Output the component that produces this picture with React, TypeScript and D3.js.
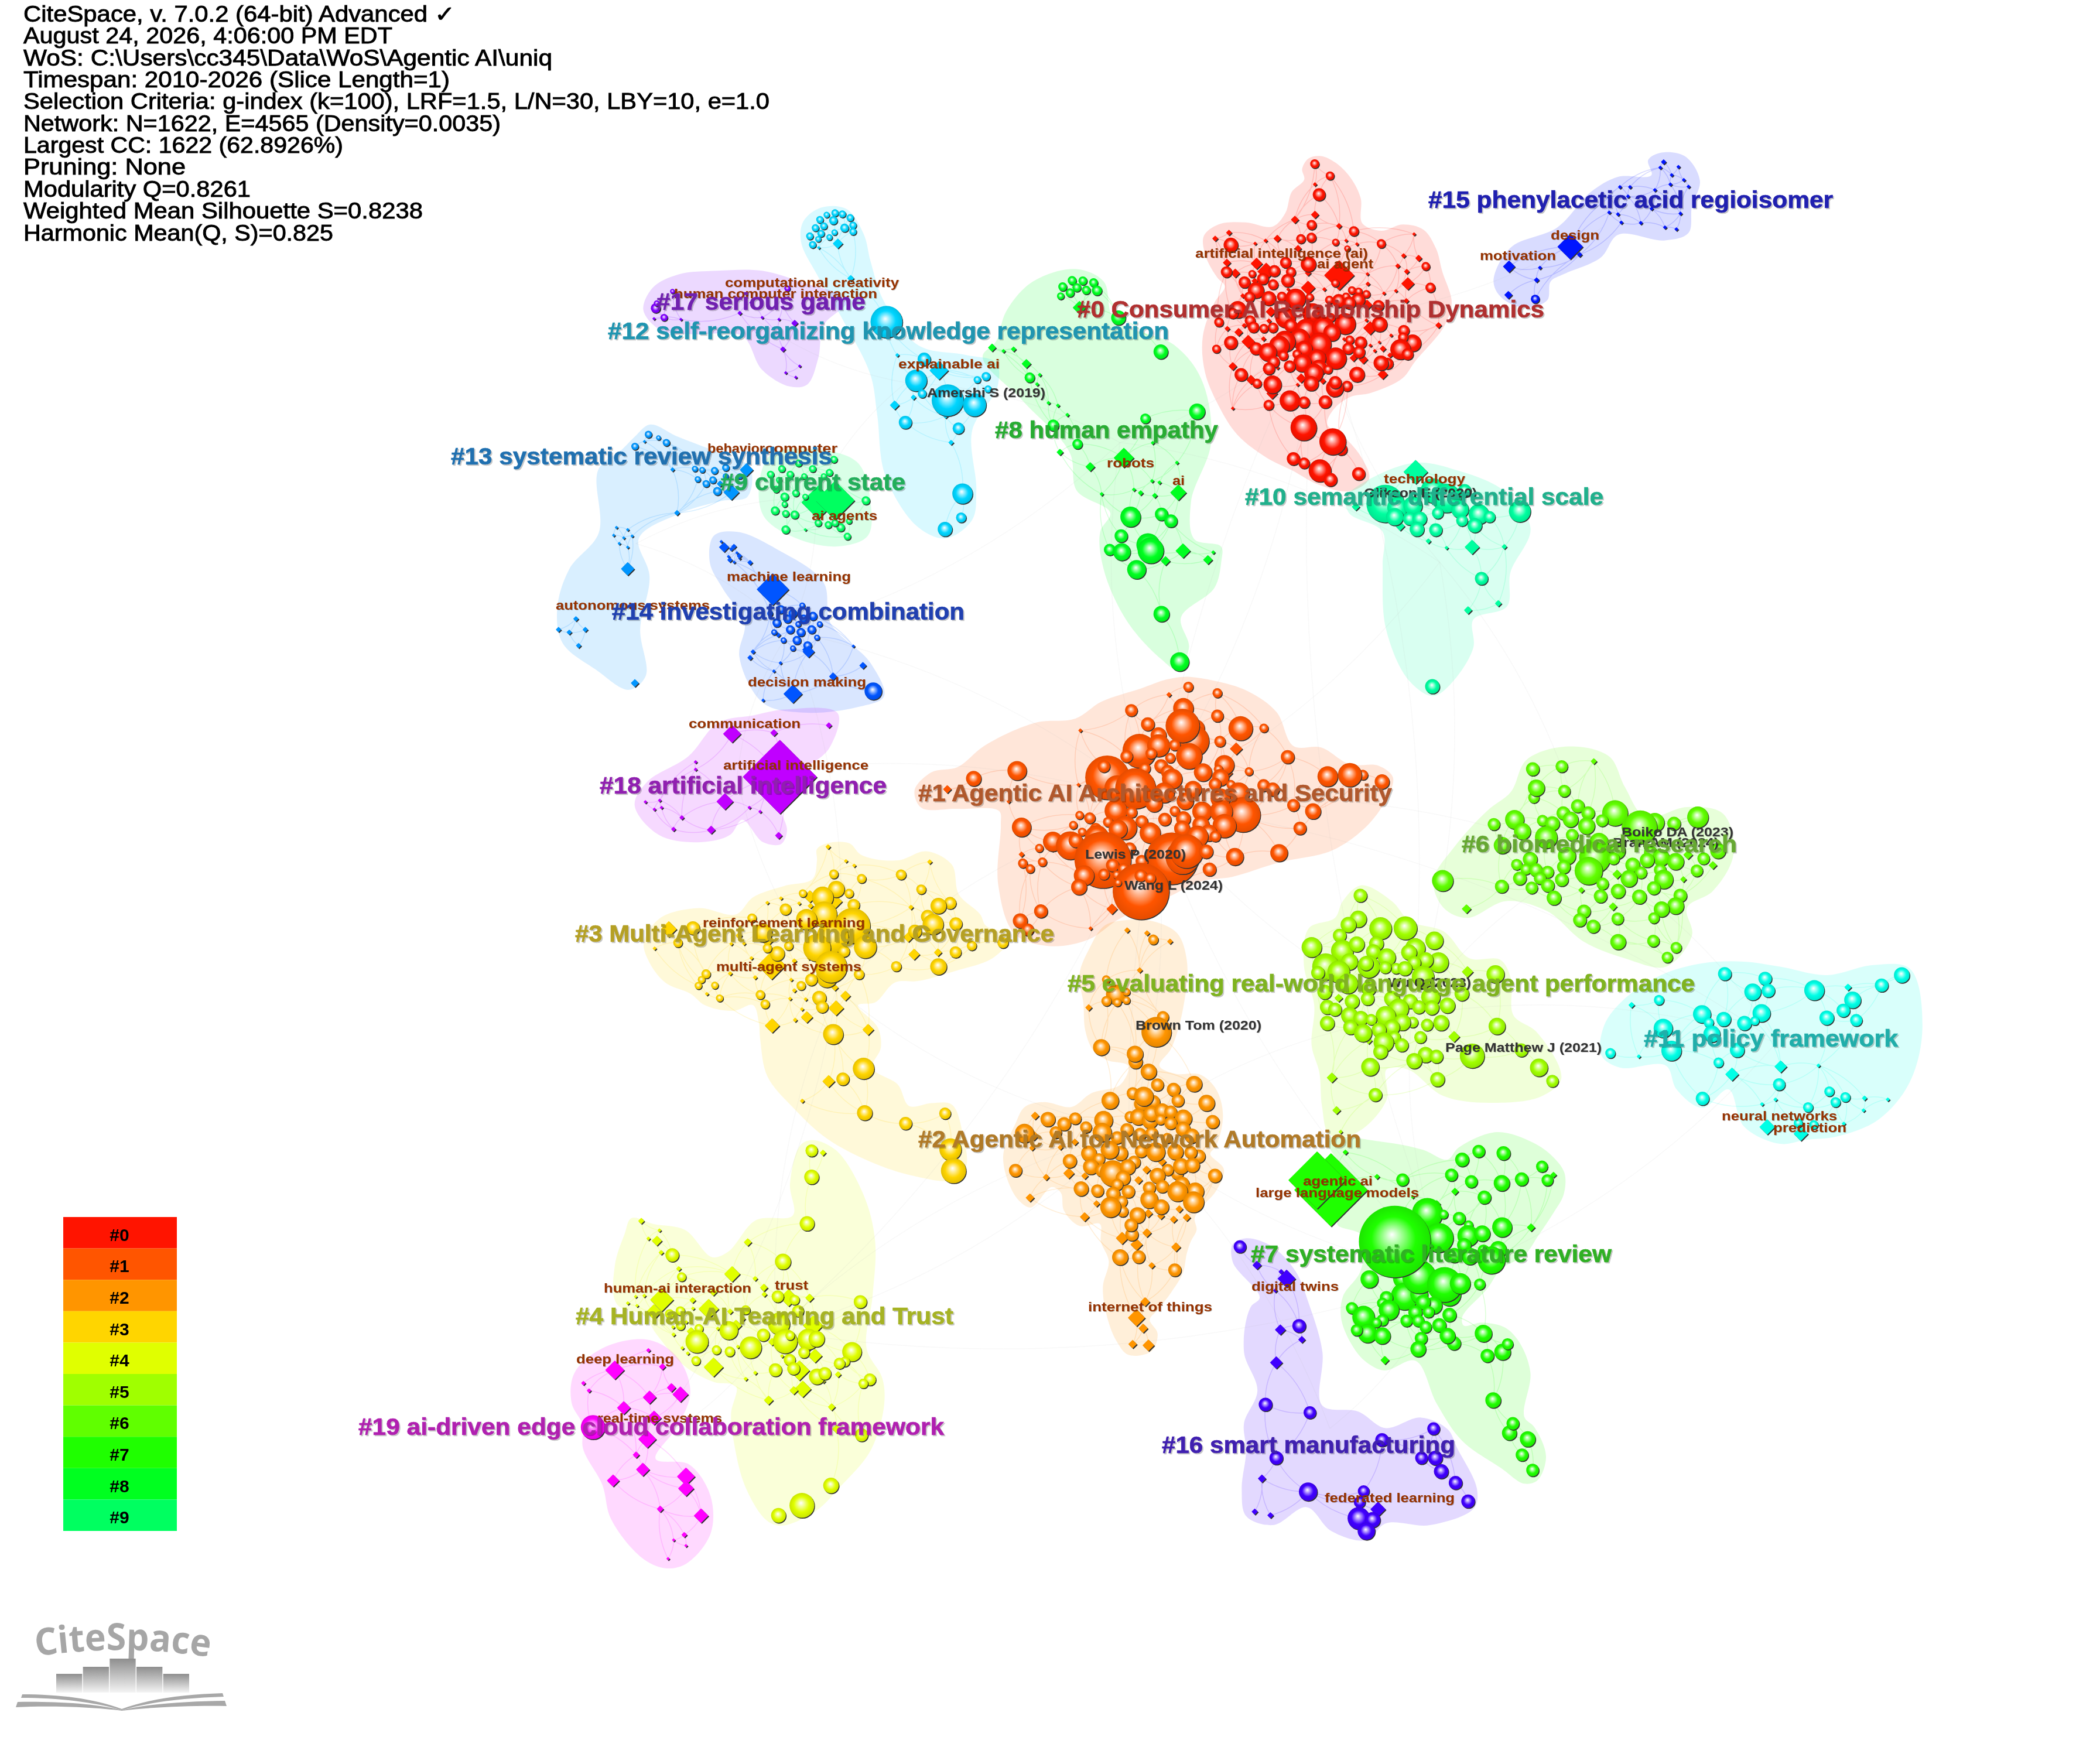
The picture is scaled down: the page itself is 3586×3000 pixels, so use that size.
import * as d3 from 'd3'

// CiteSpace cluster map. Node lists are [x, y, size],
// each list in the pixel grid of the view it was read from (see views below).

const headerLines = [
  'CiteSpace, v. 7.0.2 (64-bit) Advanced ✓',
  'August 24, 2026, 4:06:00 PM EDT',
  'WoS: C:\\Users\\cc345\\Data\\WoS\\Agentic AI\\uniq',
  'Timespan: 2010-2026 (Slice Length=1)',
  'Selection Criteria: g-index (k=100), LRF=1.5, L/N=30, LBY=10, e=1.0',
  'Network: N=1622, E=4565 (Density=0.0035)',
  'Largest CC: 1622 (62.8926%)',
  'Pruning: None',
  'Modularity Q=0.8261',
  'Weighted Mean Silhouette S=0.8238',
  'Harmonic Mean(Q, S)=0.825',
]
const headerWidths = [737, 630, 903, 728, 1274, 815, 546, 277, 388, 682, 529]

const clusterColors = ['#ff1400', '#ff5500', '#ff9500', '#ffd500', '#e0ff00', '#a0ff00', '#60ff00', '#1fff00', '#00ff20', '#00ff60',
  '#00ffa0', '#00ffe6', '#00d5ff', '#0095ff', '#0055ff', '#0015ff', '#4000ff', '#8000ff', '#c000ff', '#ff00ff']
const clusterInk = ['#b03030', '#b0582c', '#b07a28', '#b5a024', '#a6b324', '#7fb320', '#66a832', '#30b024', '#28ac32', '#22ae5a',
  '#20b08c', '#20aeaa', '#2095b0', '#2070b0', '#2040b0', '#2020b0', '#4020b0', '#7020b0', '#9020b0', '#b020b0']

const clusterNames = ['#0 Consumer-AI Relationship Dynamics', '#1 Agentic AI Architectures and Security', '#2 Agentic AI for Network Automation',
  '#3 Multi-Agent Learning and Governance', '#4 Human-AI Teaming and Trust', '#5 evaluating real-world language agent performance',
  '#6 biomedical research', '#7 systematic literature review', '#8 human empathy', '#9 current state', '#10 semantic differential scale',
  '#11 policy framework', '#12 self-reorganizing knowledge representation', '#13 systematic review synthesis', '#14 investigating combination',
  '#15 phenylacetic acid regioisomer', '#16 smart manufacturing', '#17 serious game', '#18 artificial intelligence', '#19 ai-driven edge cloud collaboration framework']
const clusterNameSpan = [[1839, 2637, 542], [1568, 2377, 1368], [1568, 2324, 1959], [982, 1800, 1608], [983, 1628, 2261], [1823, 2894, 1693],
  [2496, 2966, 1455], [2136, 2752, 2155], [1699, 2080, 748], [1230, 1546, 837], [2126, 2738, 862], [2807, 3241, 1787], [1038, 1996, 579],
  [770, 1421, 793], [1045, 1647, 1058], [2439, 3130, 355], [1984, 2485, 2481], [1121, 1478, 529], [1024, 1514, 1355], [612, 1612, 2450]]

const termNames = ['computational creativity', 'human computer interaction', 'behavior', 'computer', 'ai agents', 'machine learning', 'autonomous systems',
  'decision making', 'communication', 'artificial intelligence', 'reinforcement learning', 'multi-agent systems', 'artificial intelligence (ai)', 'ai agent',
  'motivation', 'design', 'explainable ai', 'robots', 'ai', 'technology', 'neural networks', 'prediction', 'agentic ai', 'large language models',
  'digital twins', 'internet of things', 'federated learning', 'human-ai interaction', 'trust', 'deep learning', 'real-time systems']
const termSpan = [[1238, 1535, 490], [1151, 1498, 509], [1208, 1306, 773], [1306, 1430, 773], [1386, 1498, 888], [1241, 1453, 992], [949, 1212, 1041],
  [1277, 1479, 1172], [1176, 1367, 1243], [1235, 1483, 1314], [1200, 1477, 1583], [1223, 1471, 1658], [2041, 2336, 440], [2249, 2345, 458],
  [2527, 2657, 444], [2648, 2731, 409], [1534, 1707, 629], [1890, 1971, 798], [2002, 2023, 828], [2363, 2502, 825], [2940, 3137, 1913], [3028, 3153, 1933],
  [2225, 2344, 2024], [2144, 2423, 2044], [2137, 2286, 2204], [1858, 2070, 2239], [2262, 2484, 2565], [1031, 1283, 2207], [1323, 1380, 2202], [984, 1151, 2328], [1020, 1233, 2429]]

const refNames = ['Amershi S (2019)', 'Glikson E (2020)', 'Lewis P (2020)', 'Wang L (2024)', 'Brown Tom (2020)', 'Wu Q (2023)', 'Page Matthew J (2021)', 'Boiko DA (2023)', 'Bran AM (2024)']
const refSpan = [[1583, 1785, 678], [2329, 2522, 849], [1853, 2025, 1466], [1920, 2088, 1519], [1939, 2154, 1758], [2370, 2512, 1685], [2468, 2735, 1796], [2769, 2960, 1428], [2754, 2935, 1446]]

const legendItems = ['#0', '#1', '#2', '#3', '#4', '#5', '#6', '#7', '#8', '#9']
const logoBars = [32, 44, 58, 44, 32]

type View = { x0: number; y0: number; sx: number; sy: number }
const view = (x0: number, y0: number, sx: number, sy: number): View => ({ x0, y0, sx, sy })
const v1 = view(0, 0, 1.045, 1.568)
const v2 = view(1500, 200, 1568 / 1800, 1.568)
const v3 = view(900, 1100, 0.98, 1.568)
const v4 = view(2200, 1200, 1568 / 1386, 1568 / 900)
const v5 = view(0, 2000, 1.045, 1.568)
const v6 = view(1600, 1900, 1568 / 1200, 1.96)
const v7 = view(2020, 260, 2.8, 2.8)
const v8 = view(1680, 1140, 2.24, 2.24)
const v9 = view(1700, 1780, 3, 3)
const v10 = view(1000, 1440, 2.063, 2.063)
const v11 = view(2230, 1960, 3, 3)
const v12 = view(1060, 2180, 3, 3)
const vp = view(0, 0, 1568 / 3586, 1568 / 3586)

type N = number[]
const c0Circles: N[] = [[630,55,20],[703,112,19],[651,202,28],[615,347,22],[817,377,22],[614,408,22],[564,414,21],[229,443,32],[730,430,16],[786,460,14],[948,437,20],[491,527,25],[600,535,34],[1161,545,19],[208,572,25],[437,567,26],[516,572,22],[331,581,17],[382,605,26],[501,613,29],[294,621,26],[431,632,23],[728,625,18],[1183,647,22],[349,660,36],[808,660,18],[840,665,17],[877,678,18],[318,692,24],[410,698,32],[473,690,22],[538,700,45],[606,693,18],[700,706,19],[745,710,30],[780,690,18],[838,705,30],[795,720,28],[935,733,25],[262,752,38],[238,770,24],[620,770,45],[490,790,45],[172,812,21],[321,805,24],[337,836,25],[430,838,23],[387,842,20],[515,828,29],[775,820,47],[707,790,20],[940,822,34],[1056,852,25],[590,850,50],[670,840,50],[712,862,38],[557,890,44],[487,904,47],[797,897,20],[229,910,30],[160,940,19],[460,925,45],[653,917,52],[850,909,27],[790,938,26],[1098,912,38],[1052,885,22],[349,938,28],[580,940,36],[405,955,40],[842,955,27],[1040,942,45],[1074,965,26],[730,985,48],[640,985,40],[480,972,22],[545,965,20],[570,1007,40],[433,1002,27],[978,1010,26],[947,1007,33],[650,1030,35],[510,1023,26],[411,1034,27],[694,1038,20],[278,1063,29],[625,1055,42],[832,1062,34],[354,1105,21],[613,1105,33],[428,1110,40],[785,1118,24],[726,1127,39],[728,1100,28],[511,1187,45],[579,1195,26],[410,1208,23],[680,1193,29],[577,1316,58],[757,1420,27],[716,1383,59],[528,1465,29],[579,1486,25],[655,1522,50],[840,1537,29],[705,1565,30]]
const c0Diamonds: N[] = [[631,153,10],[535,322,19],[631,298,19],[746,352,14],[220,384,14],[154,412,14],[451,412,18],[345,436,9],[395,422,10],[780,422,9],[832,439,9],[1105,391,9],[550,460,17],[1055,494,12],[1127,506,16],[210,528,19],[352,532,28],[398,570,42],[747,588,72],[250,578,22],[598,577,15],[1027,543,12],[1070,570,13],[882,582,9],[884,629,11],[1075,628,31],[343,615,15],[598,648,34],[503,655,9],[676,655,10],[961,674,9],[1018,662,9],[286,686,12],[1068,710,13],[880,730,26],[420,762,24],[411,806,12],[293,828,12],[316,830,14],[877,803,9],[1222,827,15],[895,840,33],[212,843,13],[266,860,20],[995,875,9],[385,892,12],[312,905,32],[632,865,28],[770,893,9],[939,908,8],[896,923,9],[956,939,15],[917,949,9],[990,970,13],[815,983,18],[862,990,22],[238,1023,20],[452,1030,10],[955,1062,24],[325,1087,23],[565,1080,23],[668,1093,15],[548,1111,9],[426,1153,27],[238,1224,9]]

const c1Circles: N[] = [[782,73,18],[893,97,17],[564,163,22],[763,155,36],[893,184,22],[627,216,24],[810,232,32],[982,232,43],[1071,231,16],[800,280,57],[760,222,60],[668,258,28],[903,282,20],[595,318,60],[668,298,40],[730,296,20],[785,338,46],[713,345,18],[546,339,22],[640,328,20],[1162,341,24],[920,372,35],[678,376,24],[703,398,24],[616,385,20],[1014,397,15],[838,400,32],[897,388,16],[472,420,78],[459,377,22],[720,425,36],[905,420,30],[1315,416,36],[1450,410,18],[1400,410,42],[1523,436,26],[884,445,22],[945,447,16],[1070,450,22],[1105,465,24],[510,460,45],[580,462,72],[690,478,36],[800,465,30],[975,480,38],[905,500,35],[1184,526,22],[1259,549,28],[991,562,62],[505,547,40],[651,520,30],[770,510,30],[565,553,20],[730,548,18],[835,550,35],[366,564,15],[405,575,20],[475,590,18],[604,588,22],[692,580,23],[763,577,26],[908,550,40],[342,602,15],[1209,614,23],[920,605,42],[540,612,42],[428,615,20],[513,617,33],[636,632,37],[830,600,30],[376,628,15],[144,610,34],[127,394,34],[758,615,28],[860,632,30],[885,645,20],[817,645,38],[432,648,42],[264,665,35],[330,680,50],[351,661,25],[212,690,15],[503,672,20],[558,692,22],[455,735,100],[720,730,92],[760,725,60],[775,702,60],[850,703,25],[1129,708,31],[960,723,31],[149,748,17],[224,743,16],[177,769,16],[604,740,22],[492,755,23],[534,769,20],[863,771,24],[383,795,36],[459,790,20],[508,792,15],[601,855,100],[600,795,22],[636,805,20],[513,822,13],[364,839,28],[218,931,24],[139,968,26],[168,1002,22],[-39,424,27]]
const c1Diamonds: N[] = [[708,103,10],[369,240,8],[965,310,24],[935,403,17],[362,448,8],[95,512,8],[144,714,11],[262,693,12],[530,883,21],[490,923,21],[408,997,8],[-140,465,16]]

const c2UpperCircles: N[] = [[648,1040,18],[468,1193,15],[505,1250,35],[545,1240,14],[469,1275,18],[545,1272,14],[510,1280,15],[685,1336,21],[660,1393,53],[449,1452,29],[580,1507,25],[578,1477,29],[630,1545,28]]
const c2UpperDiamonds: N[] = [[548,1004,11],[624,1015,11],[712,1047,11],[596,1157,11],[401,1300,13]]
const c2Circles: N[] = [[785,149,37],[829,216,30],[912,241,32],[1017,212,38],[703,260,29],[587,297,41],[808,304,32],[745,315,33],[759,276,46],[934,297,30],[1081,310,39],[268,393,35],[351,417,32],[408,389,29],[463,434,28],[553,398,44],[690,380,27],[731,381,39],[790,400,38],[797,364,37],[853,350,36],[897,355,30],[845,395,25],[962,388,41],[897,413,30],[1112,406,32],[148,465,45],[308,460,29],[546,460,45],[673,447,31],[960,443,35],[740,470,30],[800,465,30],[1005,478,35],[623,487,30],[880,490,25],[478,568,37],[640,567,35],[585,550,43],[746,557,30],[820,560,45],[1040,582,32],[1000,563,30],[921,560,38],[530,597,28],[710,612,30],[380,607,33],[102,655,31],[488,636,37],[545,654,32],[600,670,62],[677,638,37],[930,670,30],[882,652,28],[950,633,38],[1008,628,35],[1124,682,33],[829,682,37],[653,694,35],[623,728,28],[438,749,35],[522,759,30],[854,737,31],[602,775,33],[680,763,31],[787,745,30],[955,725,35],[1022,762,42],[932,763,48],[1014,817,50],[787,804,42],[647,814,27],[651,865,27],[589,843,49],[849,842,36],[727,885,38],[698,983,31],[694,935,31],[638,1100,38],[733,1098,31],[918,1165,31]]
const c2Diamonds: N[] = [[202,375,21],[197,478,25],[406,510,18],[187,540,15],[332,537,14],[375,670,28],[259,690,17],[457,683,18],[176,795,22],[852,610,22],[773,652,21],[732,705,21],[517,825,17],[456,893,24],[782,875,22],[847,888,19],[912,906,19],[979,896,20],[941,853,19],[775,975,23],[648,1002,32],[722,1035,31],[924,1048,24],[800,1142,17],[766,1328,24],[722,1410,44],[756,1464,24],[702,1545,22],[783,1551,30]]

const c3Circles: N[] = [[874,108,15],[972,124,15],[1111,110,17],[1182,162,16],[883,161,27],[835,190,35],[928,176,15],[765,176,13],[944,217,20],[704,232,19],[840,250,42],[1284,210,20],[1243,220,26],[778,268,34],[940,290,58],[1205,258,22],[1224,285,34],[1304,283,21],[378,298,22],[586,263,15],[625,315,30],[325,350,15],[1160,310,22],[870,330,52],[985,365,37],[815,368,45],[675,388,24],[715,361,15],[640,369,15],[910,380,19],[1303,383,19],[1360,360,16],[1470,350,18],[850,470,35],[865,435,52],[1094,433,17],[1243,434,27],[963,461,17],[795,480,20],[759,501,15],[424,460,15],[408,480,12],[397,501,12],[455,500,12],[472,545,12],[615,533,15],[632,566,15],[823,544,23],[833,576,20],[872,672,33],[979,793,35],[906,830,21],[983,949,25],[1127,986,21],[1266,951,19],[1285,1078,36],[1296,1153,41]]
const c3Diamonds: N[] = [[854,12,9],[917,62,7],[946,78,7],[1212,65,9],[790,187,22],[880,205,24],[640,209,7],[688,193,7],[752,211,7],[792,220,10],[1146,225,9],[865,232,7],[293,302,28],[540,325,12],[640,340,24],[243,370,7],[513,354,7],[558,353,7],[1137,330,18],[1157,391,20],[1241,384,14],[655,430,50],[584,404,7],[735,414,9],[787,405,7],[509,458,8],[597,472,8],[724,480,7],[878,508,12],[735,518,8],[915,537,18],[720,547,7],[775,549,7],[882,580,27],[762,584,7],[779,612,21],[738,622,8],[657,642,26],[995,656,20],[856,838,22],[763,907,8],[427,530,7]]

const c4UpperCircles: N[] = [[796,1082,20],[796,1175,24],[780,1339,24],[695,1473,26],[305,1450,22],[338,1527,15]]
const c4UpperDiamonds: N[] = [[836,1090,11],[196,1330,11],[260,1363,7],[221,1392,7],[251,1400,18],[266,1441,9],[328,1498,9],[571,1405,14],[516,1517,28],[597,1533,9],[628,1565,14]]
const c4Circles: N[] = [[804,101,29],[890,118,24],[1227,128,31],[305,175,22],[250,190,22],[640,170,22],[908,175,28],[810,240,52],[306,250,22],[400,265,21],[553,275,44],[730,298,30],[390,332,54],[842,330,58],[867,301,22],[960,320,50],[1003,318,38],[665,362,52],[490,375,22],[558,383,24],[938,388,27],[1184,384,46],[385,430,22],[865,425,28],[1148,435,24],[1120,444,27],[792,477,31],[885,470,30],[1005,511,38],[1045,495,30],[1276,526,29],[1242,547,23],[1233,810,31],[1077,1069,37],[928,1171,59],[808,1222,35]]
const c4Diamonds: N[] = [[733,58,17],[735,90,14],[474,78,20],[368,120,16],[210,118,60],[120,97,10],[76,101,9],[83,148,9],[36,135,10],[170,180,40],[450,165,52],[370,162,10],[560,178,15],[625,215,14],[590,250,30],[967,108,22],[860,107,45],[985,250,52],[335,232,10],[268,258,10],[270,296,11],[497,265,10],[360,280,22],[775,333,20],[600,358,10],[315,365,10],[343,392,10],[438,348,10],[960,350,35],[826,406,10],[995,405,36],[915,480,52],[475,463,50],[1113,500,16],[689,492,11],[640,523,11],[1038,535,12],[932,575,43],[886,582,22],[757,632,24],[1080,667,19],[1105,780,22]]

const c5Circles: N[] = [[139,573,12],[135,643,15],[116,660,14],[178,671,20],[99,692,12],[226,670,21],[45,727,18],[282,707,16],[104,738,20],[132,718,14],[170,716,13],[245,730,18],[164,740,13],[233,742,14],[290,772,18],[118,770,15],[190,757,16],[265,765,14],[72,785,24],[155,785,20],[208,790,10],[243,773,12],[187,787,11],[225,790,13],[260,815,20],[57,803,12],[97,800,20],[150,775,13],[115,835,18],[400,807,16],[335,865,13],[70,860,13],[155,850,13],[235,888,13],[275,875,17],[123,888,13],[200,880,14],[153,880,12],[75,905,13],[90,912,12],[213,910,18],[252,905,12],[277,907,13],[307,900,14],[118,930,15],[140,938,13],[188,932,18],[160,942,10],[240,950,10],[220,950,15],[295,952,14],[268,958,11],[75,953,13],[120,965,13],[403,962,15],[200,965,14],[175,973,13],[144,982,16],[255,995,11],[205,995,11],[184,1010,18],[219,1018,12],[178,1038,13],[265,1047,14],[286,1052,12],[243,1065,14],[355,1050,22],[450,1033,12],[158,1083,16],[484,1085,16],[510,1125,11],[288,1120,13],[168,1166,12]]
const c5Diamonds: N[] = [[346,800,11],[97,878,8],[320,993,11],[155,1005,7],[84,1115,10],[93,1212,8],[101,1276,4]]

const c6Circles: N[] = [[472,197,12],[528,189,11],[474,282,10],[479,253,15],[533,262,11],[559,307,12],[531,328,12],[579,328,12],[631,328,23],[437,347,17],[491,350,10],[510,359,13],[545,347,14],[606,350,11],[397,361,11],[708,356,17],[745,359,12],[791,340,19],[660,370,15],[680,370,30],[576,366,15],[452,382,15],[548,393,11],[498,400,20],[413,424,15],[600,415,17],[830,440,14],[635,440,15],[592,460,28],[538,455,16],[467,465,13],[628,463,11],[700,445,12],[720,460,15],[693,468,13],[802,463,11],[665,482,13],[441,481,10],[748,472,15],[459,495,10],[532,488,12],[580,500,25],[478,497,12],[718,497,11],[501,503,11],[681,505,11],[789,499,11],[447,522,12],[486,522,11],[528,526,12],[725,525,17],[658,523,15],[298,529,19],[607,538,11],[412,546,12],[470,550,11],[501,543,12],[706,551,12],[637,560,13],[757,573,12],[603,575,12],[678,577,13],[513,580,13],[748,604,15],[721,614,14],[571,620,12],[563,646,12],[636,642,11],[706,640,10],[589,665,12],[637,711,14],[705,708,11],[749,728,10],[732,757,10]]
const c6Diamonds: N[] = [[590,174,6],[772,452,9],[820,483,8],[635,510,9],[763,525,6],[566,557,6],[627,606,8],[344,613,9]]

const c7Circles: N[] = [[885,17,30],[1012,27,33],[800,60,33],[1209,95,28],[495,163,30],[745,138,30],[847,172,30],[1003,180,38],[1105,160,32],[1237,165,28],[914,253,32],[622,335,73],[705,340,22],[785,360,30],[833,395,22],[1005,406,47],[680,460,70],[830,450,50],[903,438,38],[810,498,33],[910,525,28],[985,520,40],[760,550,35],[840,555,40],[950,575,65],[325,672,42],[890,698,27],[495,670,45],[505,760,65],[580,750,42],[735,750,55],[580,660,80],[710,700,83],[790,694,49],[455,480,170],[412,767,31],[392,795,26],[425,830,48],[655,807,40],[600,790,35],[560,842,33],[628,840,28],[735,855,33],[235,820,28],[295,866,53],[392,882,28],[515,885,29],[575,885,29],[360,895,24],[613,917,29],[683,908,33],[315,950,45],[260,933,28],[390,962,40],[590,975,30],[758,1000,33],[725,962,37],[575,1030,37],[909,950,41],[1007,1045,39],[1033,1004,27],[929,1064,32],[959,1292,37],[1042,1460,35],[1060,1411,30],[1136,1491,37],[1107,1572,30],[1161,1650,30]]
const c7Diamonds: N[] = [[202,22,14],[364,147,14],[1268,138,16],[763,223,19],[547,252,9],[670,287,20],[1153,407,21],[404,1087,22],[128,215,188],[57,165,147]]

const c8Circles: N[] = [[288,437,6],[304,438,6],[320,443,6],[295,456,6],[309,463,6],[325,464,7],[285,470,6],[274,454,6],[271,479,5],[357,537,10],[420,628,10],[225,697,7],[260,825,8],[397,807,7],[474,788,11],[296,875,7],[375,1070,14],[421,1063,9],[435,1081,9],[361,1121,9],[401,1145,16],[405,1160,18],[344,1158,8],[362,1164,12],[384,1211,13],[421,1330,11],[448,1458,13]]
const c8Diamonds: N[] = [[299,510,10],[169,617,6],[186,626,3],[201,621,4],[220,660,7],[240,690,3],[236,715,3],[253,765,3],[267,772,3],[281,797,3],[270,897,5],[365,912,15],[315,936,7],[408,872,3],[444,925,3],[446,1005,12],[407,974,3],[418,978,3],[380,997,3],[390,1006,4],[411,1013,4],[332,1009,3],[453,1161,11],[427,1188,7],[490,1185,7],[498,1165,3]]

const c9Circles: N[] = [[1488,1230,6],[1425,1240,6],[1395,1255,6],[1450,1255,6],[1480,1265,6],[1375,1270,6],[1410,1270,6],[1435,1275,5],[1390,1285,5],[1470,1275,5],[1385,1310,6],[1420,1320,6],[1400,1330,7],[1437,1330,5],[1383,1367,7],[1400,1350,5],[1418,1378,7],[1402,1375,6],[1460,1400,6],[1478,1405,6],[1500,1412,7],[1490,1400,6],[1402,1418,7],[1512,1436,6],[1545,1340,7],[1515,1395,5]]
const c9Diamonds: N[] = [[1460,1345,30],[1490,1340,35],[1437,1418,3]]

const c10Circles: N[] = [[754,1035,26],[825,1000,17],[845,1020,20],[772,1045,14],[795,1040,13],[865,1050,12],[768,1070,12],[790,1075,9],[805,1075,10],[832,1060,8],[893,1063,14],[909,1070,8],[954,1055,15],[872,1000,9],[801,1103,10],[829,1105,9],[887,1093,10],[868,1080,8],[897,1235,9],[824,1524,10]]
const c10Diamonds: N[] = [[799,950,18],[710,1043,6],[748,1070,4],[776,1095,7],[883,1151,11],[931,1150,4],[818,1135,4],[845,1153,3],[877,1320,6],[922,1302,5]]

const c11Circles: N[] = [[843,806,12],[921,820,12],[1185,810,14],[1146,840,12],[1016,855,18],[897,860,15],[927,856,12],[1090,884,15],[716,884,9],[799,926,16],[914,923,16],[841,941,13],[812,951,9],[881,953,13],[901,946,8],[1040,937,13],[1072,915,12],[1097,944,11],[724,968,17],[818,985,15],[740,1035,18],[867,1033,13],[622,1042,9],[831,1070,9],[948,1135,11],[800,1177,12],[1045,1156,9],[1076,1173,9],[1057,1188,9],[1004,1203,9],[985,1250,8],[1015,1255,8]]
const c11Diamonds: N[] = [[663,899,6],[1081,846,7],[677,1052,4],[951,1082,12],[857,1105,13],[1024,1079,4],[915,1194,4],[941,1180,4],[1113,1176,5],[1158,1180,4],[1111,1212,4],[925,1262,15],[990,1282,14],[1073,1252,4]]

const c12TopCircles: N[] = [[1490,570,6],[1475,575,5],[1503,573,6],[1517,583,6],[1463,588,6],[1487,590,7],[1507,610,7],[1522,603,6],[1522,620,6],[1470,605,6],[1455,610,6],[1489,622,5],[1445,632,6],[1465,625,6],[1480,635,5],[1450,655,6],[1460,640,5]]
const c12TopDiamonds: N[] = [[1495,652,9],[1461,663,3],[1518,745,6]]
const c12Circles: N[] = [[12,548,22],[68,648,9],[56,705,15],[103,758,22],[143,770,16],[160,694,6],[147,703,5],[163,728,5],[65,740,6],[40,817,9],[119,833,8],[125,1008,14],[123,1072,7],[99,1103,10]]
const c12Diamonds: N[] = [[90,678,14],[28,637,3],[24,771,7],[108,871,4],[100,800,4],[52,750,4]]

const c13Circles: N[] = [[1157,1163,6],[1175,1172,4],[1189,1185,6],[1133,1195,6],[1240,1255,5],[1253,1258,5],[1275,1260,6],[1295,1252,6],[1245,1283,5],[1272,1285,6],[1295,1275,5],[1280,1315,7],[1320,1275,5],[1260,1295,6]]
const c13Diamonds: N[] = [[1150,1182,3],[1200,1257,4],[1332,1258,12],[1305,1318,14],[1285,1295,6],[1208,1373,5],[1100,1412,3],[1120,1418,3],[1128,1435,3],[1095,1433,3],[1113,1440,3],[1120,1465,3],[1105,1455,3],[1120,1523,12]]
const c13LowerDiamonds: N[] = [[474,510,3],[430,462,2],[437,470,2],[425,472,2],[417,470,2],[432,482,2]]

const c14TopDiamonds: N[] = [[1292,1465,9],[1305,1470,4],[1315,1480,3],[1287,1450,3],[1320,1495,3],[1300,1490,3],[1310,1505,3]]
const c14Circles: N[] = [[583,455,3],[592,458,3],[600,462,3],[607,460,3],[580,465,3],[590,470,3],[598,472,3],[606,470,3],[585,478,2],[595,478,3],[603,482,3],[588,462,3],[596,466,2],[575,458,2],[612,466,2],[578,472,2],[610,476,2],[592,484,2],[599,452,2],[652,516,6]]
const c14Diamonds: N[] = [[577,440,12],[592,518,7],[602,485,3],[581,474,2],[622,505,3],[560,491,2],[548,408,2],[552,415,2],[560,420,2],[545,418,2]]
const c14LowerDiamonds: N[] = [[471,20,10],[378,20,4],[562,57,6],[546,5,3],[413,72,3],[424,50,3],[395,150,3]]

const c15Circles: N[] = [[977,487,6]]
const c15Diamonds: N[] = [[1029,347,19],[1043,368,4],[938,400,9],[984,403,3],[979,436,4],[937,476,6],[1168,120,4],[1190,133,3],[1163,135,3],[1180,155,3],[1198,168,3],[1178,180,3],[1205,186,3],[1155,195,3],[1118,187,3],[1103,187,3],[1115,212,3],[1087,255,3],[1100,260,3],[1150,245,3],[1193,258,3],[1105,282,3],[1134,283,3],[1170,295,3],[1187,300,3],[1087,215,3]]

const c16Circles: N[] = [[676,448,13],[808,713,14],[733,976,14],[832,1003,13],[993,1095,14],[1108,1057,13],[757,1155,14],[1081,1155,13],[1112,1155,15],[1125,1200,15],[1157,1238,14],[828,1268,19],[952,1266,12],[943,1303,12],[1185,1300,14],[941,1357,23],[972,1362,16],[958,1400,18]]
const c16Diamonds: N[] = [[714,510,10],[768,532,6],[780,555,20],[755,595,5],[766,726,12],[814,759,8],[757,836,14],[725,1224,9],[709,1335,7],[744,1347,7],[984,1327,17]]

const c17Circles: N[] = [[1200,780,4],[1170,825,8],[1185,850,6],[1405,772,5],[1172,812,5]]
const c17Diamonds: N[] = [[1167,853,3],[1215,855,3],[1320,838,4],[1418,865,6],[1360,850,3],[1390,855,3],[1397,935,5],[1427,980,3],[1402,998,3],[1420,1010,3],[1340,810,3],[1395,800,3]]

const c18Diamonds: N[] = [[343,240,15],[413,237,6],[505,217,5],[423,355,62],[282,315,3],[282,335,3],[331,421,14],[198,422,3],[222,418,3],[213,442,3],[225,437,3],[259,464,4],[245,495,4],[308,497,7],[421,512,6],[372,437,3],[390,448,3]]

const c19Circles: N[] = [[1058,685,20]]
const c19Diamonds: N[] = [[1157,479,4],[1097,532,17],[1182,523,6],[1041,567,4],[1051,587,4],[1198,579,8],[1214,597,14],[1159,605,12],[1113,633,12],[1167,660,13],[1155,717,16],[1135,759,6],[1147,798,12],[1094,828,11],[1224,817,16],[1224,849,14],[1178,904,6],[1251,922,13],[1221,973,5],[1202,987,3],[1224,1002,3],[1192,1037,3]]

type Reading = { cluster: number; v: View; circles?: N[]; diamonds?: N[] }
const readings: Reading[] = [
  { cluster: 19, v: v5, circles: c19Circles, diamonds: c19Diamonds },
  { cluster: 18, v: v3, diamonds: c18Diamonds },
  { cluster: 17, v: v1, circles: c17Circles, diamonds: c17Diamonds },
  { cluster: 16, v: v6, circles: c16Circles, diamonds: c16Diamonds },
  { cluster: 15, v: v2, circles: c15Circles, diamonds: c15Diamonds },
  { cluster: 14, v: v1, diamonds: c14TopDiamonds },
  { cluster: 14, v: vp, circles: c14Circles, diamonds: c14Diamonds },
  { cluster: 14, v: v3, diamonds: c14LowerDiamonds },
  { cluster: 13, v: v1, circles: c13Circles, diamonds: c13Diamonds },
  { cluster: 13, v: vp, diamonds: c13LowerDiamonds },
  { cluster: 12, v: v1, circles: c12TopCircles, diamonds: c12TopDiamonds },
  { cluster: 12, v: v2, circles: c12Circles, diamonds: c12Diamonds },
  { cluster: 11, v: v4, circles: c11Circles, diamonds: c11Diamonds },
  { cluster: 10, v: v2, circles: c10Circles, diamonds: c10Diamonds },
  { cluster: 9, v: v1, circles: c9Circles, diamonds: c9Diamonds },
  { cluster: 8, v: v2, circles: c8Circles, diamonds: c8Diamonds },
  { cluster: 7, v: v11, circles: c7Circles, diamonds: c7Diamonds },
  { cluster: 6, v: v4, circles: c6Circles, diamonds: c6Diamonds },
  { cluster: 5, v: v4, circles: c5Circles, diamonds: c5Diamonds },
  { cluster: 4, v: v10, circles: c4UpperCircles, diamonds: c4UpperDiamonds },
  { cluster: 4, v: v12, circles: c4Circles, diamonds: c4Diamonds },
  { cluster: 3, v: v10, circles: c3Circles, diamonds: c3Diamonds },
  { cluster: 2, v: v8, circles: c2UpperCircles, diamonds: c2UpperDiamonds },
  { cluster: 2, v: v9, circles: c2Circles, diamonds: c2Diamonds },
  { cluster: 1, v: v8, circles: c1Circles, diamonds: c1Diamonds },
  { cluster: 0, v: v7, circles: c0Circles, diamonds: c0Diamonds },
]

// hull outlines, same idea: points in the view they were read from
type Hull = { cluster: number; v: View; pts: number[][] }
const hulls: Hull[] = [
  { cluster: 0, v: v7, pts: [[660,18],[730,50],[800,120],[850,220],[858,340],[950,375],[1050,345],[1150,370],[1210,460],[1240,570],[1285,720],[1250,830],[1110,1000],[1050,1080],[900,1150],[800,1170],[720,1230],[690,1300],[780,1370],[860,1470],[890,1560],[800,1620],[650,1590],[520,1520],[400,1460],[260,1350],[170,1210],[105,1050],[95,880],[150,720],[200,640],[165,600],[110,500],[100,400],[170,345],[300,335],[430,355],[490,290],[520,190],[580,130],[570,80],[600,30]] },
  { cluster: 1, v: v8, pts: [[770,35],[880,50],[1010,90],[1120,170],[1185,300],[1290,305],[1400,370],[1510,375],[1565,420],[1530,520],[1450,620],[1330,700],[1130,745],[950,800],[840,815],[700,880],[520,960],[400,1040],[250,1065],[120,1020],[55,830],[65,600],[60,550],[-100,540],[-240,535],[-265,470],[-200,400],[-100,380],[0,300],[200,210],[350,195],[450,130],[600,80],[700,45]] },
  { cluster: 2, v: v9, pts: [[677,-628],[810,-620],[930,-560],[980,-420],[960,-170],[900,30],[840,120],[920,160],[1050,165],[1130,240],[1165,370],[1130,530],[1100,570],[1170,650],[1130,760],[1060,840],[1020,900],[1030,960],[1000,1020],[980,1080],[960,1180],[900,1280],[830,1370],[790,1420],[830,1490],[800,1580],[680,1600],[620,1530],[570,1400],[550,1250],[580,1120],[540,1020],[535,930],[430,940],[350,860],[335,770],[290,740],[180,845],[120,810],[60,700],[40,570],[100,420],[150,330],[250,305],[390,330],[490,260],[640,215],[680,120],[570,90],[500,40],[460,-60],[450,-200],[430,-350],[480,-480],[560,-600]] },
  { cluster: 3, v: v10, pts: [[815,20],[850,0],[930,0],[970,40],[1100,60],[1200,28],[1290,75],[1315,180],[1390,250],[1410,290],[1500,325],[1440,400],[1300,450],[1170,485],[1090,490],[1020,560],[960,570],[1030,650],[1040,720],[1010,790],[1100,850],[1140,925],[1220,915],[1290,920],[1330,1030],[1340,1140],[1300,1185],[1150,1170],[1000,1120],[850,1040],[730,930],[640,820],[615,690],[610,630],[590,570],[520,590],[420,570],[370,530],[280,490],[220,410],[205,350],[260,265],[400,228],[530,250],[590,190],[700,150],[800,125],[815,60]] },
  { cluster: 4, v: v12, pts: [[984,-700],[1100,-650],[1245,-417],[1303,-184],[1290,100],[1260,370],[1340,520],[1350,650],[1280,890],[1120,1080],[1000,1200],[820,1275],[750,1250],[640,1080],[580,850],[565,700],[590,560],[480,540],[330,460],[180,290],[120,200],[-20,140],[-30,-60],[20,-220],[54,-300],[169,-270],[329,-240],[470,-100],[547,-126],[693,-290],[882,-315],[867,-475],[925,-679]] },
  { cluster: 5, v: v4, pts: [[140,543],[200,590],[235,650],[300,680],[350,760],[410,765],[430,820],[435,930],[480,980],[527,1120],[490,1170],[400,1190],[300,1170],[230,1090],[190,1090],[190,1180],[130,1280],[80,1285],[65,1200],[60,1100],[45,1020],[50,900],[30,780],[40,670],[90,640],[105,590]] },
  { cluster: 6, v: v4, pts: [[540,130],[620,160],[650,250],[690,340],[770,310],[840,330],[860,450],[820,560],[770,610],[780,690],[730,785],[650,760],[570,710],[500,620],[420,590],[345,640],[300,610],[280,530],[320,430],[385,320],[430,265],[460,170]] },
  { cluster: 7, v: v11, pts: [[108,-42],[400,-30],[600,10],[726,60],[780,0],[978,-81],[1164,-27],[1270,50],[1325,130],[1320,240],[1270,330],[1190,450],[1120,550],[1000,620],[930,720],[800,870],[808,910],[900,895],[1020,920],[1090,990],[1150,1150],[1120,1380],[1170,1430],[1230,1581],[1185,1704],[1120,1720],[1000,1640],[800,1500],[670,1310],[560,1090],[400,1140],[300,1090],[230,1000],[180,870],[190,760],[280,630],[290,450],[160,390],[250,280],[200,120]] },
  { cluster: 8, v: v2, pts: [[295,407],[335,440],[350,540],[440,610],[480,700],[495,870],[465,1030],[470,1130],[510,1150],[510,1190],[500,1260],[450,1340],[462,1420],[445,1480],[420,1450],[370,1350],[335,1210],[330,1110],[345,1060],[295,1000],[285,900],[215,760],[155,640],[175,600],[190,520],[230,440]] },
  { cluster: 9, v: vp, pts: [[575,340],[600,335],[640,345],[650,375],[648,400],[625,408],[590,400],[570,385],[567,360]] },
  { cluster: 10, v: v2, pts: [[800,925],[860,945],[930,1000],[970,1100],[940,1220],[935,1310],[885,1345],[885,1420],[850,1520],[825,1550],[790,1510],[755,1370],[750,1200],[750,1110],[700,1060],[695,1020],[730,970]] },
  { cluster: 11, v: v4, pts: [[800,775],[880,770],[950,785],[1040,810],[1130,780],[1200,790],[1225,960],[1200,1130],[1140,1240],[1060,1290],[1000,1300],[950,1312],[880,1260],[850,1150],[800,1205],[750,1150],[730,1080],[640,1085],[605,1050],[610,960],[650,880],[720,810]] },
  { cluster: 12, v: vp, pts: [[600,165],[613,155],[632,156],[645,175],[650,195],[660,225],[686,258],[721,265],[744,271],[745,288],[726,321],[729,366],[726,388],[706,402],[686,394],[661,355],[655,310],[650,280],[630,240],[610,205],[598,180]] },
  { cluster: 13, v: vp, pts: [[474,326],[485,317],[506,326],[539,339],[560,349],[558,371],[539,374],[506,384],[477,402],[485,430],[478,470],[482,505],[470,515],[445,500],[420,480],[416,455],[425,425],[447,398],[447,350],[465,335]] },
  { cluster: 14, v: vp, pts: [[533,400],[550,397],[580,410],[615,435],[620,465],[650,495],[660,520],[640,528],[600,532],[570,525],[552,490],[556,465],[540,440],[530,420]] },
  { cluster: 15, v: v2, pts: [[1165,95],[1200,105],[1222,170],[1210,240],[1205,310],[1170,330],[1100,315],[1075,375],[1020,420],[1000,440],[995,490],[960,510],[925,480],[915,440],[940,350],[1010,295],[1060,200],[1100,160],[1150,155],[1145,115]] },
  { cluster: 16, v: v6, pts: [[690,420],[745,445],[800,530],[830,640],[860,800],[860,980],[940,1000],[1000,1055],[1080,1020],[1140,1060],[1160,1120],[1205,1260],[1200,1320],[1100,1380],[1000,1375],[960,1430],[880,1400],[825,1320],[750,1380],[690,1350],[680,1260],[690,1130],[685,1040],[715,930],[685,800],[700,650],[720,620],[660,500],[660,440]] },
  { cluster: 17, v: v1, pts: [[1210,735],[1280,725],[1360,725],[1440,760],[1500,790],[1510,810],[1470,870],[1460,960],[1440,1030],[1410,1035],[1360,990],[1325,900],[1240,895],[1180,885],[1148,830],[1165,770]] },
  { cluster: 18, v: v3, pts: [[430,175],[520,185],[505,280],[460,340],[420,410],[435,500],[425,535],[395,530],[360,470],[340,510],[290,530],[220,510],[180,430],[200,370],[270,300],[320,210],[380,190]] },
  { cluster: 19, v: v5, pts: [[1160,452],[1210,500],[1232,590],[1210,680],[1170,770],[1230,785],[1268,870],[1268,970],[1225,1050],[1190,1063],[1150,1040],[1090,930],[1075,840],[1040,740],[1040,680],[1020,620],[1025,540],[1080,470]] },
]

// faint citations running between clusters
const crossLinks = [[0,1],[0,2],[0,5],[0,7],[0,8],[0,10],[1,2],[1,3],[1,4],[1,5],[1,6],[1,7],[1,8],[1,10],[1,11],[1,14],[2,3],[2,4],[2,5],[2,7],[2,16],[3,4],[3,18],[3,14],[3,19],[4,7],[4,19],[4,2],[5,6],[5,7],[5,11],[5,10],[6,11],[6,10],[7,16],[7,11],[8,10],[8,12],[8,14],[9,13],[9,14],[12,9],[13,14],[14,18],[15,0],[17,12],[18,1]]

const circleGain = 1.08

const xOf = (v: View) => d3.scaleLinear().domain([0, 1]).range([v.x0, v.x0 + 1 / v.sx])
const yOf = (v: View) => d3.scaleLinear().domain([0, 1]).range([v.y0, v.y0 + 1 / v.sy])

type Mark = { cluster: number; x: number; y: number; r: number }
const placeAll = (list: N[] | undefined, r: Reading, gain = 1): Mark[] => {
  const x = xOf(r.v)
  const y = yOf(r.v)
  return (list ?? []).map(([a, b, s]) => ({ cluster: r.cluster, x: x(a), y: y(b), r: (s / r.v.sx) * gain }))
}

const hullLine = d3.line().curve(d3.curveCatmullRomClosed.alpha(0.6))
const hullPath = (h: Hull) => {
  const x = xOf(h.v)
  const y = yOf(h.v)
  return hullLine(h.pts.map(([a, b]) => [x(a), y(b)] as [number, number])) ?? ''
}
const hullCentre = (h: Hull) => {
  const x = xOf(h.v)
  const y = yOf(h.v)
  return d3.polygonCentroid(h.pts.map(([a, b]) => [x(a), y(b)] as [number, number]))
}

const arc = (x1: number, y1: number, x2: number, y2: number, bend: number) => {
  const p = d3.path()
  p.moveTo(x1, y1)
  p.quadraticCurveTo((x1 + x2) / 2 - (y2 - y1) * bend, (y1 + y2) / 2 + (x2 - x1) * bend, x2, y2)
  return p.toString()
}

// each cluster's links: short Delaunay edges between its nodes
const clusterLinks = (marks: Mark[], maxLen: number) => {
  if (marks.length < 3) return ''
  const del = d3.Delaunay.from(marks, (m) => m.x, (m) => m.y)
  let out = ''
  del.halfedges.forEach((j, i) => {
    if (j < i) return
    const a = marks[del.triangles[i]]
    const b = marks[del.triangles[j]]
    if (Math.hypot(a.x - b.x, a.y - b.y) > maxLen) return
    out += arc(a.x, a.y, b.x, b.y, 0.16)
  })
  return out
}

const squareSym = d3.symbol().type(d3.symbolSquare)
const diamondPath = (r: number) => squareSym.size(2 * r * r)() ?? ''

const legendY = d3.scaleBand<string>().domain(legendItems).range([2078, 2614])
const logoX = d3.scaleBand<number>().domain(d3.range(logoBars.length)).range([96, 323]).paddingInner(0.03)

const SANS = '"Liberation Sans", Arial, sans-serif'

export default function App() {
  const marksByCluster = d3.group(
    readings.flatMap((r) => [...placeAll(r.diamonds, r), ...placeAll(r.circles, r)]),
    (m) => m.cluster
  )
  const centres = new Map(hulls.map((h) => [h.cluster, hullCentre(h)]))

  return (
    <svg width={3586} height={3000} viewBox="0 0 3586 3000" style={{ position: 'absolute', left: 0, top: 0, background: '#fff' }}>
      <defs>
        {clusterColors.map((c, i) => (
          <radialGradient key={i} id={`ball${i}`} cx="0.5" cy="0.5" r="0.5" fx="0.46" fy="0.4">
            <stop offset="0" stopColor="#fff" />
            <stop offset="0.62" stopColor={c} />
            <stop offset="1" stopColor={d3.color(c)!.darker(0.3).formatHex()} />
          </radialGradient>
        ))}
        <linearGradient id="logoBar" x1="0" y1="0" x2="0" y2="1">
          <stop offset="0" stopColor="#8e8e8e" />
          <stop offset="1" stopColor="#f4f4f4" />
        </linearGradient>
        <path id="logoArc" d="M 62 2828 Q 210 2806 362 2830" />
      </defs>

      {hulls.map((h) => (
        <path key={h.cluster} d={hullPath(h)} fill={clusterColors[h.cluster]} fillOpacity={0.15} />
      ))}

      <g fill="none" stroke="#bbb" strokeOpacity={0.1} strokeWidth={1.5}>
        {crossLinks.map(([a, b], i) => {
          const p = centres.get(a)!
          const q = centres.get(b)!
          return <path key={i} d={arc(p[0], p[1], q[0], q[1], i % 2 ? 0.12 : -0.12)} />
        })}
      </g>

      {hulls.map((h) => {
        const marks = marksByCluster.get(h.cluster) ?? []
        return (
          <path key={h.cluster} d={clusterLinks(marks, 110)} fill="none" stroke={clusterColors[h.cluster]} strokeOpacity={0.16} strokeWidth={1.5}
            style={{ mixBlendMode: 'multiply' }} />
        )
      })}

      {readings.map((r, ri) => (
        <g key={ri}>
          {placeAll(r.diamonds, r).map((m, i) => (
            <g key={i} transform={`translate(${m.x},${m.y}) rotate(45)`}>
              <path d={diamondPath(m.r)} transform={`rotate(-45) translate(1.5,1.5) rotate(45)`} fill="#333" />
              <path d={diamondPath(m.r)} fill={clusterColors[r.cluster]} />
            </g>
          ))}
          {placeAll(r.circles, r, circleGain).map((m, i) => (
            <g key={i}>
              <circle cx={m.x + 1.2} cy={m.y + 1.5} r={m.r} fill="#333" />
              <circle cx={m.x} cy={m.y} r={m.r} fill={`url(#ball${r.cluster})`} />
            </g>
          ))}
        </g>
      ))}

      <g fontFamily={SANS} fontWeight="bold" fontSize={22} fill="#963200" style={{ filter: 'drop-shadow(1px 1px 0 rgba(0,0,0,0.25))' }}>
        {termNames.map((t, i) => (
          <text key={i} x={termSpan[i][0]} y={termSpan[i][2]} textLength={termSpan[i][1] - termSpan[i][0]} lengthAdjust="spacingAndGlyphs">{t}</text>
        ))}
      </g>
      <g fontFamily={SANS} fontWeight="bold" fontSize={22} fill="#333" style={{ filter: 'drop-shadow(1px 1px 0 rgba(0,0,0,0.25))' }}>
        {refNames.map((t, i) => (
          <text key={i} x={refSpan[i][0]} y={refSpan[i][2]} textLength={refSpan[i][1] - refSpan[i][0]} lengthAdjust="spacingAndGlyphs">{t}</text>
        ))}
      </g>
      <g fontFamily={SANS} fontWeight="bold" fontSize={41} strokeWidth={0.7} style={{ filter: 'drop-shadow(2px 2px 0 rgba(0,0,0,0.22))' }}>
        {clusterNames.map((t, i) => (
          <text key={i} x={clusterNameSpan[i][0]} y={clusterNameSpan[i][2]} fill={clusterInk[i]} stroke={clusterInk[i]}
            textLength={clusterNameSpan[i][1] - clusterNameSpan[i][0]} lengthAdjust="spacingAndGlyphs">{t}</text>
        ))}
      </g>

      <g fontFamily={SANS} fontSize={38} fill="#000" stroke="#000" strokeWidth={0.9}>
        {headerLines.map((t, i) => (
          <text key={i} x={40} y={37 + i * 37.35} textLength={headerWidths[i]} lengthAdjust="spacingAndGlyphs">{t}</text>
        ))}
      </g>

      {legendItems.map((t, i) => (
        <g key={t}>
          <rect x={108} y={legendY(t)} width={194} height={legendY.bandwidth()} fill={clusterColors[i]} />
          <text x={204} y={legendY(t)! + legendY.bandwidth() / 2 + 14} textAnchor="middle" fontFamily={SANS} fontWeight="bold" fontSize={30} fill="#000">{t}</text>
        </g>
      ))}

      <text fontFamily='"Open Sans", sans-serif' fontWeight="bold" fontSize={64} fill="#a6a6a6">
        <textPath href="#logoArc" textLength={297} lengthAdjust="spacingAndGlyphs">CiteSpace</textPath>
      </text>
      {logoBars.map((h, i) => (
        <rect key={i} x={logoX(i)} y={2890 - h} width={logoX.bandwidth()} height={h} fill="url(#logoBar)" />
      ))}
      <path d="M 208 2918 C 160 2900 100 2893 38 2893 L 36 2899 C 100 2899 160 2906 208 2920 Z" fill="#a8a8a8" />
      <path d="M 208 2920 C 160 2908 90 2905 30 2906 L 27 2915 C 90 2912 160 2915 208 2921 Z" fill="#a8a8a8" />
      <path d="M 208 2918 C 256 2900 316 2893 380 2891 L 382 2897 C 316 2899 256 2906 208 2920 Z" fill="#a8a8a8" />
      <path d="M 208 2920 C 256 2908 326 2905 384 2904 L 387 2913 C 326 2912 256 2915 208 2921 Z" fill="#a8a8a8" />
    </svg>
  )
}
